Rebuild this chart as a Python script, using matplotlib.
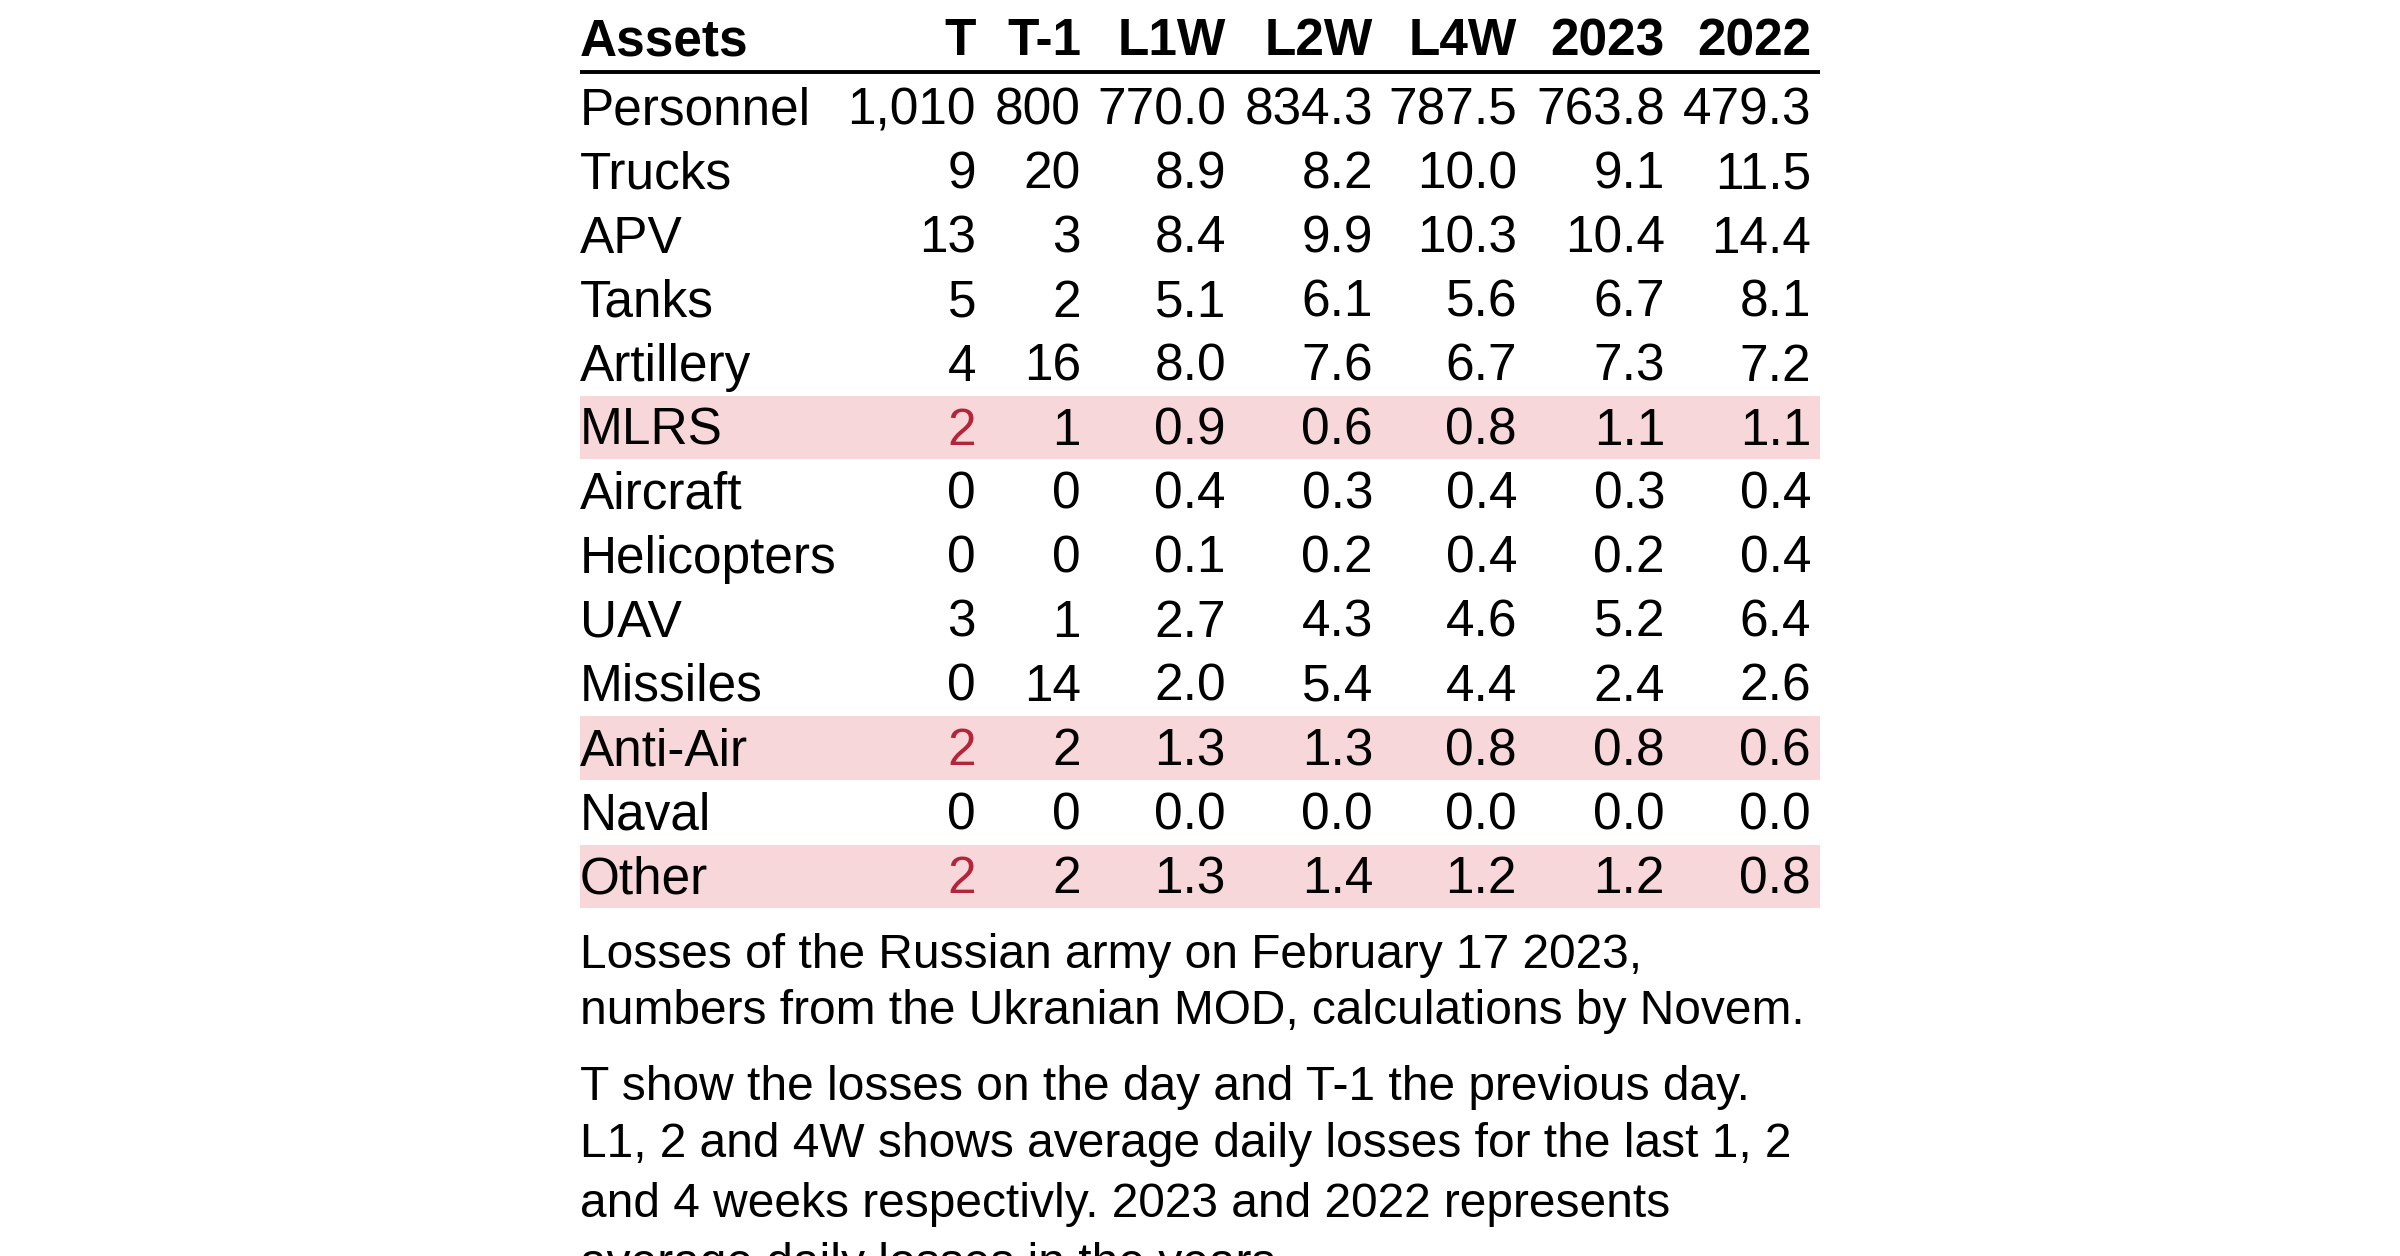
import matplotlib
matplotlib.use("Agg")
import matplotlib.pyplot as plt

plt.rcParams['font.family'] = ['Liberation Sans', 'DejaVu Sans']

# ---------------- data ----------------
columns = ["T", "T-1", "L1W", "L2W", "L4W", "2023", "2022"]
assets = ["Personnel", "Trucks", "APV", "Tanks", "Artillery", "MLRS", "Aircraft",
          "Helicopters", "UAV", "Missiles", "Anti-Air", "Naval", "Other"]
T_day = [1010, 9, 13, 5, 4, 2, 0, 0, 3, 0, 2, 0, 2]
T_prev = [800, 20, 3, 2, 16, 1, 0, 0, 1, 14, 2, 0, 2]
L1W = [770.0, 8.9, 8.4, 5.1, 8.0, 0.9, 0.4, 0.1, 2.7, 2.0, 1.3, 0.0, 1.3]
L2W = [834.3, 8.2, 9.9, 6.1, 7.6, 0.6, 0.3, 0.2, 4.3, 5.4, 1.3, 0.0, 1.4]
L4W = [787.5, 10.0, 10.3, 5.6, 6.7, 0.8, 0.4, 0.4, 4.6, 4.4, 0.8, 0.0, 1.2]
Y2023 = [763.8, 9.1, 10.4, 6.7, 7.3, 1.1, 0.3, 0.2, 5.2, 2.4, 0.8, 0.0, 1.2]
Y2022 = [479.3, 11.5, 14.4, 8.1, 7.2, 1.1, 0.4, 0.4, 6.4, 2.6, 0.6, 0.0, 0.8]
highlighted = ["MLRS", "Anti-Air", "Other"]

caption1 = ["Losses of the Russian army on February 17 2023,",
            "numbers from the Ukranian MOD, calculations by Novem."]
caption2 = ["T show the losses on the day and T-1 the previous day.",
            "L1, 2 and 4W shows average daily losses for the last 1, 2",
            "and 4 weeks respectivly. 2023 and 2022 represents",
            "average daily losses in the years."]

# ---------------- layout ----------------
W, H = 2400, 1256
fig = plt.figure(figsize=(W / 100, H / 100), dpi=100)
ax = fig.add_axes([0, 0, 1, 1])
ax.set_xlim(0, W)
ax.set_ylim(H, 0)
ax.axis('off')

left = 580
right = 1820
col_right = [976, 1081, 1226, 1373, 1517, 1665, 1811]
row0 = 107.5
dy = 64.05
fs = 37
cap_half = 17.0
pink = "#f8d7da"
red = "#b5253a"

# header
ax.text(left, 38 + cap_half, "Assets", fontsize=fs, fontweight='bold', ha='left', va='baseline')
for c, x in zip(columns, col_right):
    ax.text(x, 38 + cap_half, c, fontsize=fs, fontweight='bold', ha='right', va='baseline')
ax.plot([left, right], [72, 72], color='black', lw=2.8, solid_capstyle='butt')

# highlight rows
hl_y = [row0 + i * dy for i, a in enumerate(assets) if a in highlighted]
ax.barh(hl_y, [right - left] * len(hl_y), left=left, height=dy - 1,
        color=pink, edgecolor='none', zorder=0)

def fmt_int(v):
    return f"{v:,d}"

def fmt_dec(v):
    return f"{v:,.1f}"

series = [T_day, T_prev, L1W, L2W, L4W, Y2023, Y2022]
fmts = [fmt_int, fmt_int, fmt_dec, fmt_dec, fmt_dec, fmt_dec, fmt_dec]

for i, a in enumerate(assets):
    yb = row0 + i * dy + cap_half
    ax.text(left, yb, a, fontsize=fs, ha='left', va='baseline', zorder=2)
    for j, (s, f, x) in enumerate(zip(series, fmts, col_right)):
        color = red if (j == 0 and a in highlighted) else 'black'
        ax.text(x, yb, f(s[i]), fontsize=fs, ha='right', va='baseline', color=color, zorder=2)

# captions
cfs = 34.5
cap1_base = [968, 1023.5]
cap2_base = [1100, 1157, 1217, 1277]
for yb, line in zip(cap1_base, caption1):
    ax.text(left, yb, line, fontsize=cfs, ha='left', va='baseline')
for yb, line in zip(cap2_base, caption2):
    ax.text(left, yb, line, fontsize=cfs, ha='left', va='baseline')

fig.savefig("out.png", dpi=100, facecolor='white')
